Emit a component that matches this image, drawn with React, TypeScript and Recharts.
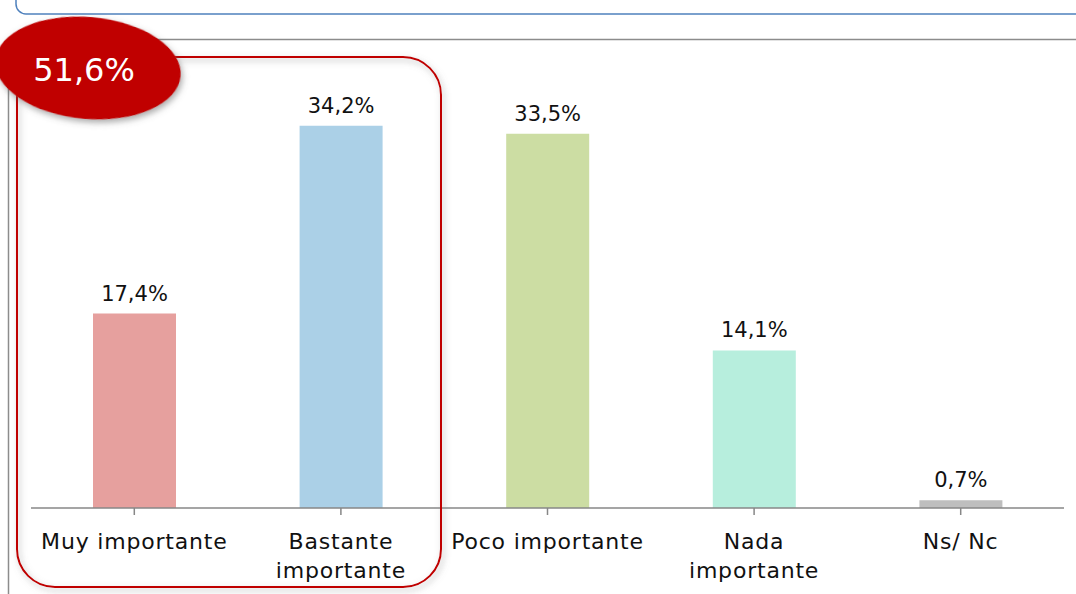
import React from "react";
import { BarChart, Bar, XAxis, YAxis, Cell, LabelList } from "recharts";

const categories = ["Muy importante", "Bastante importante", "Poco importante", "Nada importante", "Ns/ Nc"];
const categoryLines = [["Muy importante"], ["Bastante", "importante"], ["Poco importante"], ["Nada", "importante"], ["Ns/ Nc"]];
const values = [17.4, 34.2, 33.5, 14.1, 0.7];
const barColors = ["#E6A09E", "#ABD0E7", "#CCDDA3", "#B7EEDD", "#BEBEBE"];
const groupLabel = "51,6%";

const data = categories.map((name, i) => ({ name, value: values[i] }));

const FONT = "'DejaVu Sans', sans-serif";

const fmt = (v: number) => v.toFixed(1).replace(".", ",") + "%";

const CategoryTick = (props: any) => {
  const { x, y, index } = props;
  const lines = categoryLines[index] || [];
  return (
    <text x={x} y={y + 32} textAnchor="middle" fill="#111" fontFamily={FONT} fontSize={22} letterSpacing={0.8}>
      {lines.map((l, i) => (
        <tspan key={i} x={x} dy={i === 0 ? 0 : 29}>
          {l}
        </tspan>
      ))}
    </text>
  );
};

export default function App() {
  return (
    <div style={{ position: "absolute", left: 0, top: 0, width: 1076, height: 594, background: "#fff", overflow: "hidden" }}>
      <svg width={1076} height={594} style={{ position: "absolute", left: 0, top: 0 }}>
        <rect x={16} y={-40} width={1100} height={54} rx={10} ry={10} fill="#fff" stroke="#4F81BD" strokeWidth={1.5} />
        <line x1={8} y1={39.5} x2={1076} y2={39.5} stroke="#8C8C8C" strokeWidth={1.5} />
        <line x1={8.5} y1={39} x2={8.5} y2={594} stroke="#8C8C8C" strokeWidth={1.5} />
      </svg>
      <div style={{ position: "absolute", left: 0, top: 0 }}>
        <BarChart width={1076} height={594} data={data} margin={{ top: 61, right: 12, bottom: 0, left: 31 }} barCategoryGap={0}>
          <YAxis hide domain={[0, 40]} />
          <XAxis
            dataKey="name"
            axisLine={{ stroke: "#878787", strokeWidth: 1.5 }}
            tickLine={{ stroke: "#878787", strokeWidth: 1.5 }}
            tickSize={7}
            tickMargin={2}
            interval={0}
            tick={<CategoryTick />}
            height={86}
          />
          <Bar dataKey="value" barSize={83} isAnimationActive={false}>
            {data.map((d, i) => (
              <Cell key={d.name} fill={barColors[i]} />
            ))}
            <LabelList
              dataKey="value"
              position="top"
              offset={13}
              formatter={(v: any) => fmt(Number(v))}
              style={{ fontFamily: FONT, fontSize: 21, fill: "#111" }}
            />
          </Bar>
        </BarChart>
      </div>
      <svg width={1076} height={594} style={{ position: "absolute", left: 0, top: 0, pointerEvents: "none" }}>
        <defs>
          <filter id="sh" x="-20%" y="-20%" width="140%" height="140%">
            <feDropShadow dx={2} dy={3} stdDeviation={3} floodColor="#777" floodOpacity={0.55} />
          </filter>
          <filter id="sh2" x="-20%" y="-20%" width="140%" height="140%">
            <feDropShadow dx={2} dy={3} stdDeviation={3} floodColor="#555" floodOpacity={0.5} />
          </filter>
        </defs>
        <rect x={17} y={57} width={424} height={530} rx={38} ry={38} fill="none" stroke="#C00000" strokeWidth={2} filter="url(#sh)" />
        <ellipse cx={88} cy={68} rx={93} ry={51} fill="#C00000" filter="url(#sh2)" transform="rotate(5 88 68)" />
        <text x={84} y={81} textAnchor="middle" fill="#fff" fontFamily={FONT} fontSize={32}>
          {groupLabel}
        </text>
      </svg>
    </div>
  );
}
